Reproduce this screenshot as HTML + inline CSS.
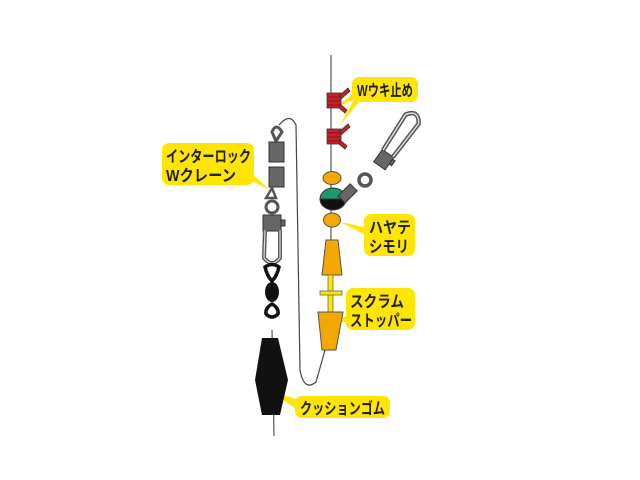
<!DOCTYPE html><html><head><meta charset="utf-8"><style>body{margin:0;background:#fff}svg{display:block}text{font-family:"Liberation Sans","Noto Sans CJK JP",sans-serif;font-weight:bold;font-size:16px;fill:#222}</style></head><body>
<svg width="640" height="480" viewBox="0 0 640 480">
<line x1="331" y1="55" x2="331" y2="345" stroke="#555" stroke-width="1.2"/>
<line x1="272" y1="330" x2="274" y2="436" stroke="#555" stroke-width="1.2"/>
<path d="M279,125 Q290,112 296,125 L300,370 Q304,392 316,382 L325,350" fill="none" stroke="#444" stroke-width="1.2"/>
<g fill="#ffe600">
<polygon points="358,90 335,108 362,96"/><polygon points="358,92 340,125 364,96"/>
<polygon points="248,170 270,190 250,180"/>
<polygon points="368,228 340,222 368,236"/>
<polygon points="350,315 330,322 350,322"/>
<polygon points="300,400 272,392 300,412"/>
<rect x="352" y="77" width="66" height="25" rx="7"/>
<rect x="162" y="143" width="92" height="42" rx="7"/>
<rect x="364" y="214" width="51" height="42" rx="7"/>
<rect x="346" y="288" width="69" height="42" rx="7"/>
<rect x="295" y="396" width="95" height="22" rx="7"/>
</g>
<text x="357" y="96" textLength="56" lengthAdjust="spacingAndGlyphs">Wウキ止め</text>
<text x="166" y="162" textLength="85" lengthAdjust="spacingAndGlyphs">インターロック</text><text x="166" y="181" textLength="70" lengthAdjust="spacingAndGlyphs">Wクレーン</text>
<text x="369" y="233" textLength="42" lengthAdjust="spacingAndGlyphs">ハヤテ</text><text x="369" y="252" textLength="40" lengthAdjust="spacingAndGlyphs">シモリ</text>
<text x="350" y="307" textLength="54" lengthAdjust="spacingAndGlyphs">スクラム</text><text x="350" y="326" textLength="62" lengthAdjust="spacingAndGlyphs">ストッパー</text>
<text x="300" y="414" textLength="85" lengthAdjust="spacingAndGlyphs">クッションゴム</text>
<g stroke="#333" stroke-width="0.8" fill="#c8202a">
<rect x="327" y="93" width="14" height="15"/><polygon points="340,95 348,88 350,91 341,99"/><polygon points="340,104 347,110 345,113 339,108"/>
<rect x="327" y="129" width="14" height="15"/><polygon points="340,131 348,124 350,127 341,135"/><polygon points="340,140 347,146 345,149 339,144"/>
</g>
<g stroke="#5a0a10" stroke-width="0.6">
<line x1="328" y1="97" x2="340" y2="97"/><line x1="328" y1="101" x2="340" y2="101"/><line x1="328" y1="105" x2="340" y2="105"/>
<line x1="328" y1="133" x2="340" y2="133"/><line x1="328" y1="137" x2="340" y2="137"/><line x1="328" y1="141" x2="340" y2="141"/>
</g>
<ellipse cx="332" cy="178" rx="9" ry="6.5" fill="#f2a800" stroke="#555"/>
<ellipse cx="332" cy="220" rx="8.5" ry="7" fill="#f2a800" stroke="#555"/>
<path d="M320,199 A13,11 0 0 1 346,199 Z" fill="#1a9a6a" stroke="#333"/>
<path d="M320,199 A13,11 0 0 0 346,199 Z" fill="#111" stroke="#333"/>
<g stroke="#333" stroke-width="1">
<rect x="343" y="185" width="10" height="17" fill="#666" transform="rotate(45 348 193)"/>
<circle cx="365" cy="180" r="6" fill="none" stroke="#555" stroke-width="3.5"/>
<g transform="translate(380,165) rotate(35)">
<rect x="-7" y="-14" width="14" height="15" fill="#666"/>
<rect x="7" y="-12" width="3" height="6" fill="#666"/>
<path d="M-6,-14 L-8,-56 Q0,-68 8,-56 L6,-14" fill="none" stroke="#555" stroke-width="4.5"/>
<path d="M-6,-14 L-8,-56 Q0,-68 8,-56 L6,-14" fill="none" stroke="#ddd" stroke-width="1.5"/>
</g>
</g>
<polygon points="326,240 338,240 342,275 322,275" fill="#f2a800" stroke="#555"/>
<rect x="328" y="275" width="5" height="38" fill="#ffe600" stroke="#666" stroke-width="0.8"/>
<rect x="320" y="291" width="22" height="4" fill="#ffe600" stroke="#666" stroke-width="0.8"/>
<polygon points="318,312 343,312 336,350 322,350" fill="#f2a800" stroke="#555"/>
<g stroke="#333" stroke-width="1">
<path d="M276,141 L272,132 Q276,122 282,132 Z" fill="none" stroke="#555" stroke-width="3"/>
<rect x="269" y="142" width="15" height="20" fill="#666"/>
<rect x="269" y="167" width="15" height="20" fill="#666"/>
<path d="M272,188 L266,198 L276,198 Z" fill="none" stroke="#555" stroke-width="2.5"/>
<circle cx="272" cy="207" r="6" fill="none" stroke="#555" stroke-width="3"/>
<rect x="263" y="215" width="18" height="16" fill="#666"/>
<rect x="281" y="220" width="4" height="6" fill="#666"/>
<path d="M265,230 L264,258 Q272,268 280,258 L280,230" fill="none" stroke="#555" stroke-width="4"/>
<path d="M265,230 L264,258 Q272,268 280,258 L280,230" fill="none" stroke="#ddd" stroke-width="1.2"/>
</g>
<g fill="none" stroke="#111" stroke-width="3.5">
<path d="M265,267 Q272,262 279,267 Q277,276 272,281 Q267,276 265,267Z"/>
<path d="M272,304 Q279,308 278,314 Q272,320 266,314 Q265,308 272,304Z"/>
</g>
<ellipse cx="272" cy="292" rx="7" ry="10" fill="#111"/>
<polygon points="262,338 278,338 288,380 280,415 262,415 255,380" fill="#111"/>
</svg></body></html>
